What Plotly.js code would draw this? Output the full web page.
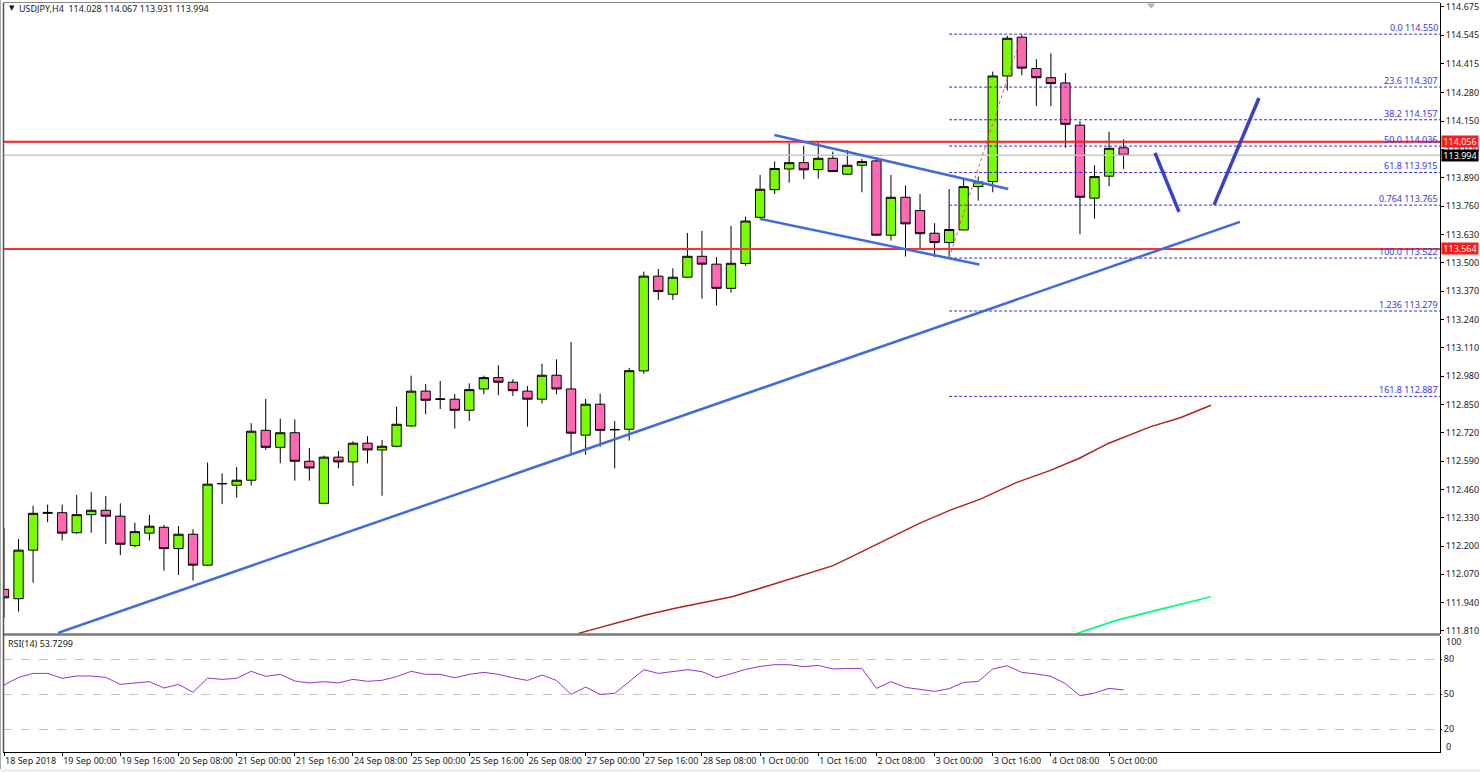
<!DOCTYPE html>
<html><head><meta charset="utf-8">
<script src="https://cdn.plot.ly/plotly-3.0.1.min.js"></script>
<style>html,body{margin:0;padding:0;background:#fff}#c{width:1480px;height:772px}</style>
</head><body><div id="c"></div>
<script>
const opens=[112.001,111.958,112.181,112.350,112.353,112.261,112.344,112.364,112.337,112.202,112.259,112.286,112.188,112.254,112.112,112.485,112.479,112.502,112.731,112.653,112.720,112.589,112.396,112.608,112.586,112.672,112.641,112.658,112.751,112.911,112.873,112.874,112.823,112.921,112.973,112.952,112.911,112.874,112.984,112.921,112.709,112.851,112.733,112.736,113.004,113.439,113.356,113.434,113.530,113.494,113.383,113.497,113.709,113.836,113.931,113.960,113.928,113.980,113.907,113.948,113.968,113.627,113.801,113.740,113.636,113.593,113.651,113.850,113.873,114.358,114.536,114.392,114.350,114.326,114.132,113.797,113.898,114.028];
const highs=[112.283,112.232,112.385,112.390,112.390,112.434,112.447,112.430,112.396,112.307,112.343,112.297,112.292,112.277,112.583,112.534,112.563,112.764,112.875,112.785,112.782,112.650,112.615,112.636,112.681,112.704,112.687,112.840,112.982,112.944,112.958,112.898,112.947,112.982,113.030,112.966,112.935,113.037,113.057,113.137,112.875,112.900,112.774,113.018,113.460,113.472,113.475,113.637,113.647,113.526,113.670,113.712,113.904,113.965,114.052,114.037,114.052,114.011,114.018,113.977,113.985,113.904,113.855,113.816,113.682,113.839,113.884,113.896,114.378,114.542,114.550,114.435,114.462,114.371,114.150,113.948,114.102,114.067];
const lows=[111.870,111.899,112.032,112.309,112.225,112.255,112.261,112.209,112.158,112.194,112.225,112.087,112.067,112.041,112.108,112.392,112.422,112.477,112.641,112.580,112.500,112.500,112.394,112.557,112.476,112.580,112.431,112.653,112.748,112.805,112.829,112.739,112.774,112.897,112.892,112.889,112.748,112.854,112.897,112.626,112.619,112.656,112.557,112.684,112.991,113.330,113.330,113.432,113.336,113.304,113.363,113.487,113.702,113.816,113.868,113.884,113.887,113.917,113.904,113.824,113.624,113.602,113.529,113.567,113.526,113.526,113.650,113.786,113.824,114.291,114.361,114.220,114.219,114.029,113.631,113.703,113.852,113.931];
const closes=[111.962,112.181,112.350,112.354,112.259,112.344,112.364,112.337,112.208,112.266,112.291,112.188,112.254,112.112,112.484,112.487,112.502,112.727,112.653,112.720,112.589,112.558,112.608,112.586,112.672,112.641,112.658,112.759,112.911,112.869,112.875,112.823,112.918,112.973,112.952,112.913,112.874,112.984,112.921,112.718,112.851,112.731,112.735,113.005,113.439,113.368,113.434,113.530,113.494,113.383,113.498,113.692,113.838,113.933,113.960,113.927,113.980,113.919,113.948,113.965,113.627,113.801,113.679,113.634,113.593,113.653,113.850,113.872,114.358,114.531,114.394,114.350,114.323,114.136,113.801,113.896,114.026,113.994];
const rsi=[57.9,64.5,67.9,67.9,63.7,65.7,65.7,64.5,58.5,59.9,60.8,55.4,58.5,51.7,63.9,62.8,63.7,69.7,65.4,67.1,61.4,59.7,60.8,59.7,62.8,61.1,62,65.1,69.7,67.1,67.1,64.2,67.1,68.8,67.1,64.2,61.9,66.5,61.9,49.9,56.2,49.9,50.8,60.8,71.1,67.9,69.4,71.1,69.4,64.2,67.6,71.4,73.9,75.4,75.4,73.7,74.8,71.7,72.2,72.2,55.1,60.8,55.9,54.5,52.5,54.8,60.2,61,71.7,74.5,68.8,67.4,65.4,59.1,48.8,51.1,55.1,53.73];
const barIndex=opens.map((_,i)=>i);

const xTickVals=[0,4,8,12,16,20,24,28,32,36,40,44,48,52,56,60,64,68,72,76];
const xTickText=['18 Sep 2018','19 Sep 00:00','19 Sep 16:00','20 Sep 08:00','21 Sep 00:00','21 Sep 16:00','24 Sep 08:00','25 Sep 00:00','25 Sep 16:00','26 Sep 08:00','27 Sep 00:00','27 Sep 16:00','28 Sep 08:00','1 Oct 00:00','1 Oct 16:00','2 Oct 08:00','3 Oct 00:00','3 Oct 16:00','4 Oct 08:00','5 Oct 00:00'];
const priceTicks=[114.675,114.545,114.415,114.280,114.150,114.020,113.890,113.760,113.630,113.500,113.370,113.240,113.110,112.980,112.850,112.720,112.590,112.460,112.330,112.200,112.070,111.940,111.810];
const rsiTicks=[80,50,20];

const maRedX=[39.5,41.8,44.14,46.16,48.19,50.07,52.24,54.56,57.02,58.9,60.93,62.95,65.12,67.15,69.61,71.92,73.96,75.98,78.87,80.9,83.01];
const maRedY=[111.799,111.842,111.883,111.914,111.940,111.967,112.011,112.059,112.110,112.171,112.236,112.304,112.366,112.415,112.491,112.546,112.603,112.672,112.748,112.789,112.846];
const maGreenX=[73.81,76.55,78.87,80.9,83.01];
const maGreenY=[111.799,111.860,111.899,111.934,111.967];

const trendX=[3.714,85.0], trendY=[111.801,113.688];
const flagTopX=[52.98,69.07], flagTopY=[114.087,113.839];
const flagLowX=[51.99,67.08], flagLowY=[113.702,113.492];
const penDownX=[79.16,80.81], penDownY=[114.005,113.734];
const penUpX=[83.22,86.31], penUpY=[113.766,114.257];
const fibTrendX=[65,70], fibTrendY=[113.522,114.550];

const fibLevels=[114.550,114.307,114.157,114.036,113.915,113.765,113.522,113.279,112.887];
const fibLabels=['0.0 114.550','23.6 114.307','38.2 114.157','50.0 114.036','61.8 113.915','0.764 113.765','100.0 113.522','1.236 113.279','161.8 112.887'];
const fibStart=65;
const resistance=114.056, support=113.564, lastPrice=113.994;
const xMin=-0.069, xMax=98.76;

const PX=x=>x/1480, PY=y=>1-y/772;
const FONT='"Noto Sans", sans-serif';
const line=(x,y,color,width,dash)=>({type:'scatter',mode:'lines',x,y,xaxis:'x',yaxis:'y',hoverinfo:'skip',showlegend:false,line:{color,width,dash:dash||'solid'}});

const traces=[
 {type:'candlestick',x:barIndex,open:opens,high:highs,low:lows,close:closes,xaxis:'x',yaxis:'y',showlegend:false,whiskerwidth:0,
  increasing:{fillcolor:'#7CFC00',line:{color:'#000',width:1}},decreasing:{fillcolor:'#FF69B4',line:{color:'#000',width:1}}},
 line([xMin,xMax],[lastPrice,lastPrice],'#c8c8c8',1.5),
 ...fibLevels.map(v=>line([fibStart,xMax],[v,v],'#2f2fd6',1,'3px,2px')),
 line(fibTrendX,fibTrendY,'#f05050',1,'dot'),
 line([xMin,xMax],[resistance,resistance],'#ff1a1a',2),
 line([xMin,xMax],[support,support],'#ff3030',2),
 line(trendX,trendY,'#4169E1',2.5),
 line(flagTopX,flagTopY,'#4169E1',2.5),
 line(flagLowX,flagLowY,'#4169E1',2.5),
 line(penDownX,penDownY,'#3a42c8',3.5),
 line(penUpX,penUpY,'#3a42c8',3.5),
 line(maRedX,maRedY,'#B22222',1.5),
 line(maGreenX,maGreenY,'#00FF7F',1.8),
 {type:'scatter',mode:'lines',x:barIndex,y:rsi,xaxis:'x',yaxis:'y2',hoverinfo:'skip',showlegend:false,line:{color:'#9932CC',width:1}},
 {type:'scatter',mode:'markers',x:[78.9],y:[114.683],xaxis:'x',yaxis:'y',hoverinfo:'skip',showlegend:false,marker:{symbol:'triangle-down',size:7,color:'#b4b4b4'}}
];

const annText=(text,x,y,extra)=>Object.assign({text,xref:'paper',yref:'paper',x:PX(x),y:PY(y),xanchor:'left',yanchor:'middle',showarrow:false,font:{family:FONT,size:9,color:'#222'}},extra||{});
const priceBox=(v,bg)=>({text:v.toFixed(3),xref:'paper',yref:'y',x:PX(1441),y:v,xanchor:'left',yanchor:'middle',showarrow:false,width:36,height:11,align:'center',bgcolor:bg,font:{family:FONT,size:9,color:'#fff'},borderpad:0});

const layout={
 width:1480,height:772,margin:{l:0,r:0,t:0,b:0},paper_bgcolor:'#fff',plot_bgcolor:'#fff',showlegend:false,
 boxgap:0.2,boxgroupgap:0.2,
 font:{family:FONT,size:9,color:'#222'},
 xaxis:{domain:[PX(3),PX(1440)],range:[xMin,xMax],anchor:'y2',rangeslider:{visible:false},tickmode:'array',tickvals:xTickVals,ticktext:xTickText,ticks:'outside',ticklen:3,tickwidth:1,tickcolor:'#000',showgrid:false,zeroline:false,showline:true,linecolor:'#000',linewidth:1,ticklabelposition:'outside right',tickangle:0,tickfont:{family:FONT,size:9,color:'#222'}},
 yaxis:{domain:[PY(634),PY(3)],range:[111.796,114.693],anchor:'x',side:'right',tickmode:'array',tickvals:priceTicks,ticktext:priceTicks.map(v=>v.toFixed(3)),ticks:'outside',ticklen:3,tickwidth:1,tickcolor:'#000',showgrid:false,zeroline:false,showline:true,linecolor:'#000',linewidth:1,tickfont:{family:FONT,size:9,color:'#222'}},
 yaxis2:{domain:[PY(752),PY(636)],range:[0.5,100],anchor:'x',side:'right',tickmode:'array',tickvals:rsiTicks,ticktext:rsiTicks.map(String),ticks:'outside',ticklen:1,tickcolor:'#000',showgrid:true,gridcolor:'#c4c4c4',griddash:'dash',gridwidth:1,zeroline:false,showline:true,linecolor:'#000',linewidth:1,tickfont:{family:FONT,size:9,color:'#222'}},
 shapes:[
  {type:'line',xref:'paper',yref:'paper',x0:PX(3),x1:PX(1440),y0:PY(634.5),y1:PY(634.5),line:{color:'#7a7a7a',width:2.5}},
  {type:'line',xref:'paper',yref:'paper',x0:PX(3.5),x1:PX(3.5),y0:PY(3),y1:PY(752),line:{color:'#555',width:1.5}},
  {type:'line',xref:'paper',yref:'paper',x0:PX(0.5),x1:PX(0.5),y0:PY(0),y1:PY(772),line:{color:'#aaa',width:1}},
  {type:'line',xref:'paper',yref:'paper',x0:PX(3),x1:PX(1440),y0:PY(2.5),y1:PY(2.5),line:{color:'#888',width:1.2}},
  {type:'rect',xref:'paper',yref:'paper',x0:0,x1:1,y0:PY(772),y1:PY(769),line:{width:0},fillcolor:'#efefef'}
 ],
 annotations:[
  annText('▼',7,8,{font:{family:'"DejaVu Sans"',size:7,color:'#111'}}),
  annText('USDJPY,H4  114.028 114.067 113.931 113.994',17,8),
  annText('RSI(14) 53.7299',6,643),
  annText('100',1444,641.5),
  annText('0',1444,746.5),
  ...fibLevels.map((v,i)=>({text:fibLabels[i],xref:'paper',yref:'y',x:PX(1439),y:v,xanchor:'right',yanchor:'bottom',yshift:-1,showarrow:false,borderpad:0,font:{family:FONT,size:9,color:'#3a3ad8'}})),
  priceBox(resistance,'#ff1a1a'),
  priceBox(support,'#ff1a1a'),
  priceBox(lastPrice,'#000')
 ]
};
Plotly.newPlot('c',traces,layout,{displayModeBar:false,staticPlot:true});
</script></body></html>
